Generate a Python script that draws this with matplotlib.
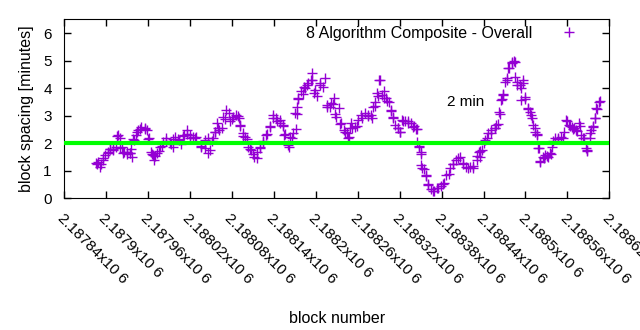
import matplotlib.pyplot as plt
from matplotlib.ticker import FuncFormatter, MultipleLocator

plt.rcParams["font.family"] = ["Liberation Sans", "DejaVu Sans"]
plt.rcParams["font.size"] = 11

# block number / spacing (minutes), 8 algorithm composite
blocks = [2187887, 2187892, 2187896, 2187902, 2187906, 2187910, 2187916, 2187920,
          2187924, 2187930, 2187934, 2187939, 2187944, 2187949, 2187956, 2187960,
          2187966, 2187970, 2187975, 2187980, 2187985, 2187992, 2187996, 2188003,
          2188010, 2188016, 2188020, 2188027, 2188035, 2188042, 2188046, 2188052,
          2188056, 2188060, 2188066, 2188070, 2188075, 2188080, 2188088, 2188092,
          2188096, 2188102, 2188106, 2188110, 2188116, 2188120, 2188125, 2188130,
          2188135, 2188139, 2188145, 2188149, 2188153, 2188156, 2188161, 2188166,
          2188171, 2188173, 2188175, 2188181, 2188185, 2188189, 2188195, 2188199,
          2188206, 2188216, 2188224, 2188228, 2188235, 2188242, 2188246, 2188252,
          2188259, 2188266, 2188274, 2188281, 2188285, 2188289, 2188292, 2188297,
          2188302, 2188307, 2188311, 2188317, 2188321, 2188325, 2188332, 2188340,
          2188345, 2188347, 2188350, 2188352, 2188357, 2188361, 2188368, 2188375,
          2188382, 2188390, 2188397, 2188404, 2188411, 2188418, 2188425, 2188431,
          2188435, 2188440, 2188445, 2188450, 2188457, 2188461, 2188464, 2188467,
          2188468, 2188474, 2188475, 2188481, 2188485, 2188488, 2188493, 2188497,
          2188500, 2188504, 2188510, 2188514, 2188517, 2188518, 2188521, 2188526,
          2188531, 2188536, 2188540, 2188547, 2188554, 2188560, 2188564, 2188568,
          2188574, 2188578, 2188583, 2188588, 2188593, 2188597, 2188600, 2188603,
          2188607,
          2187886, 2187891, 2187888, 2187895, 2187898, 2187902, 2187905, 2187910,
          2187914, 2187917, 2187919, 2187922, 2187925, 2187930, 2187934, 2187937,
          2187935, 2187940, 2187943, 2187946, 2187950, 2187955, 2187959, 2187961,
          2187964, 2187967, 2187969, 2187972, 2187977, 2187981, 2187986, 2187991,
          2187996, 2187999, 2188004, 2188007, 2188012, 2188016, 2188020, 2188024,
          2188029, 2188036, 2188041, 2188045, 2188048, 2188053, 2188055, 2188059,
          2188062, 2188067, 2188072, 2188077, 2188081, 2188086, 2188090, 2188092,
          2188096, 2188099, 2188103, 2188107, 2188112, 2188116, 2188120, 2188124,
          2188129, 2188134, 2188139, 2188143, 2188148, 2188153, 2188155, 2188160,
          2188163, 2188167, 2188170, 2188173, 2188175, 2188179, 2188183, 2188188,
          2188193, 2188194, 2188198, 2188201, 2188206, 2188210, 2188213, 2188216,
          2188220, 2188222, 2188226, 2188229, 2188233, 2188236, 2188240, 2188244,
          2188247,
          2188249, 2188251, 2188256, 2188260, 2188265, 2188270, 2188275, 2188279,
          2188282, 2188284, 2188288, 2188291, 2188294, 2188298, 2188301, 2188304,
          2188307, 2188310, 2188314, 2188318, 2188320, 2188323, 2188327, 2188332,
          2188336, 2188339, 2188344, 2188345, 2188347, 2188350, 2188351, 2188355,
          2188358, 2188361, 2188365, 2188369, 2188374, 2188379, 2188383, 2188387,
          2188392, 2188396, 2188401, 2188406, 2188411, 2188415, 2188420, 2188425,
          2188430, 2188434,
          2188435, 2188438, 2188442, 2188446, 2188451, 2188456, 2188458, 2188462,
          2188465, 2188468, 2188471, 2188474, 2188477, 2188481, 2188484, 2188485,
          2188488, 2188492, 2188494, 2188496, 2188499, 2188503, 2188506, 2188508,
          2188511, 2188514, 2188517, 2188519, 2188521, 2188525, 2188528, 2188532,
          2188535, 2188538, 2188542, 2188547, 2188551, 2188555, 2188558, 2188562,
          2188566, 2188569, 2188573, 2188576, 2188580, 2188584, 2188586, 2188588,
          2188592, 2188594, 2188597, 2188599, 2188601, 2188605]
spacing = [1.24, 1.25, 1.46, 1.65, 1.79, 1.80, 2.27, 1.83,
           1.65, 1.60, 1.65, 2.15, 2.40, 2.52, 2.52, 2.15,
           1.60, 1.54, 1.72, 1.90, 2.08, 1.97, 2.15, 2.15,
           2.27, 2.34, 2.20, 2.20, 1.90, 1.83, 1.65, 2.08,
           2.40, 2.57, 2.57, 2.89, 3.11, 2.89, 3.00, 2.63,
           2.27, 2.15, 1.80, 1.60, 1.46, 1.83, 2.08, 2.34,
           2.63, 2.93, 2.82, 2.74, 2.63, 2.34, 1.85, 2.20,
           2.52, 3.07, 3.62, 3.80, 3.99, 4.17, 4.28, 3.92,
           4.10, 3.30, 3.44, 3.07, 2.70, 2.40, 2.20, 2.57,
           2.63, 2.93, 3.00, 2.93, 3.37, 3.73, 4.28, 3.66,
           3.55, 3.18, 2.93, 2.57, 2.40, 2.82, 2.74, 2.63,
           2.52, 1.90, 1.60, 1.10, 0.80, 0.51, 0.26, 0.37,
           0.51, 0.88, 1.24, 1.46, 1.24, 1.10, 1.17, 1.54,
           1.72, 2.01, 2.20, 2.38, 2.57, 2.70, 3.07, 3.62,
           3.80, 4.28, 4.72, 4.94, 4.94, 4.21, 3.99, 4.17,
           3.62, 3.25, 2.93, 2.57, 2.34, 1.83, 1.35, 1.46,
           1.54, 1.60, 2.08, 2.15, 2.20, 2.82, 2.63, 2.52,
           2.45, 2.63, 2.20, 1.72, 2.38, 2.63, 2.93, 3.25,
           3.55,
           1.27, 1.15, 1.33, 1.39, 1.57, 1.70, 1.78, 1.76,
           1.85, 2.30, 2.18, 1.85, 1.70, 1.70, 1.64, 1.49,
           1.78, 2.12, 2.30, 2.48, 2.58, 2.55, 2.48, 2.18,
           1.70, 1.57, 1.39, 1.64, 1.85, 2.06, 2.18, 2.00,
           1.85, 2.24, 2.12, 1.97, 2.30, 2.48, 2.30, 2.24,
           2.24, 1.88, 2.12, 2.18, 1.76, 2.18, 2.42, 2.73,
           2.48, 2.97, 3.21, 2.79, 2.97, 3.03, 2.91, 2.67,
           2.36, 2.24, 1.88, 1.76, 1.51, 1.70, 1.88, 2.06,
           2.30, 2.60, 3.03, 2.91, 2.85, 2.67, 2.30, 1.94,
           2.24, 2.36, 3.09, 3.33, 3.64, 3.88, 4.06, 4.12,
           4.30, 4.55, 3.82, 3.70, 4.18, 4.06, 4.36, 3.39,
           3.33, 3.45, 3.64, 2.97, 3.27, 2.73, 2.48, 2.36,
           2.24,
           2.55, 2.73, 2.60, 2.85, 3.03, 3.11, 3.03, 3.03,
           3.33, 3.51, 3.82, 4.28, 3.76, 3.88, 3.64, 3.51,
           3.21, 2.97, 2.67, 2.55, 2.42, 2.85, 2.79, 2.79,
           2.73, 2.60, 2.51, 2.06, 1.85, 1.70, 1.21, 1.05,
           0.85, 0.48, 0.33, 0.28, 0.36, 0.45, 0.55, 0.85,
           1.09, 1.25, 1.39, 1.51, 1.27, 1.15, 1.15, 1.09,
           1.39, 1.70,
           1.51, 1.76, 2.12, 2.36, 2.48, 2.55, 2.67, 3.15,
           3.57, 3.76, 4.24, 4.36, 4.73, 4.91, 4.97, 4.42,
           4.12, 4.12, 3.57, 4.30, 3.69, 3.27, 3.15, 3.03,
           2.67, 2.42, 2.30, 1.82, 1.33, 1.51, 1.57, 1.51,
           1.64, 1.88, 2.18, 2.18, 2.24, 2.42, 2.85, 2.67,
           2.60, 2.55, 2.48, 2.73, 2.30, 2.18, 1.82, 1.76,
           2.18, 2.48, 2.60, 2.91, 3.27, 3.51]

target = 2.0
x_start, x_end, x_step = 2187840, 2188620, 60

fig = plt.figure(figsize=(6.4, 3.3), dpi=100)
ax = fig.add_axes([0.1005, 0.399, 0.8515, 0.5425])

ax.plot(blocks, spacing, "+", color="#9400d3", markersize=6.5, markeredgewidth=1,
        label="8 Algorithm Composite - Overall")
ax.axhline(target, color="#00ff00", linewidth=3, zorder=3)
ax.text(2188388, 3.5, "2 min", fontsize=11, va="center")

ax.set_xlim(x_start, x_end)
ax.set_ylim(0, 6.5)
ax.xaxis.set_major_locator(MultipleLocator(x_step))
ax.yaxis.set_major_locator(MultipleLocator(1))
ax.xaxis.set_major_formatter(FuncFormatter(lambda v, p: f"{v/1e6:g}x10 6"))

ax.tick_params(direction="in", length=5, width=1, top=True, right=True, labelsize=11)
ax.tick_params(axis="y", pad=9)
ax.tick_params(axis="x", pad=9)
for lab in ax.get_xticklabels():
    lab.set_rotation(-45)
    lab.set_ha("left")
    lab.set_va("top")
    lab.set_rotation_mode("anchor")

ax.set_xlabel("block number", fontsize=11.5, labelpad=18)
ax.set_ylabel("block spacing [minutes]", fontsize=11.5, labelpad=7)

ax.legend(loc="upper right", frameon=False, markerfirst=False, fontsize=11.5,
          handlelength=4.3, handletextpad=0.1, borderpad=0.3, borderaxespad=0.1)

plt.savefig("out.png", dpi=100)
